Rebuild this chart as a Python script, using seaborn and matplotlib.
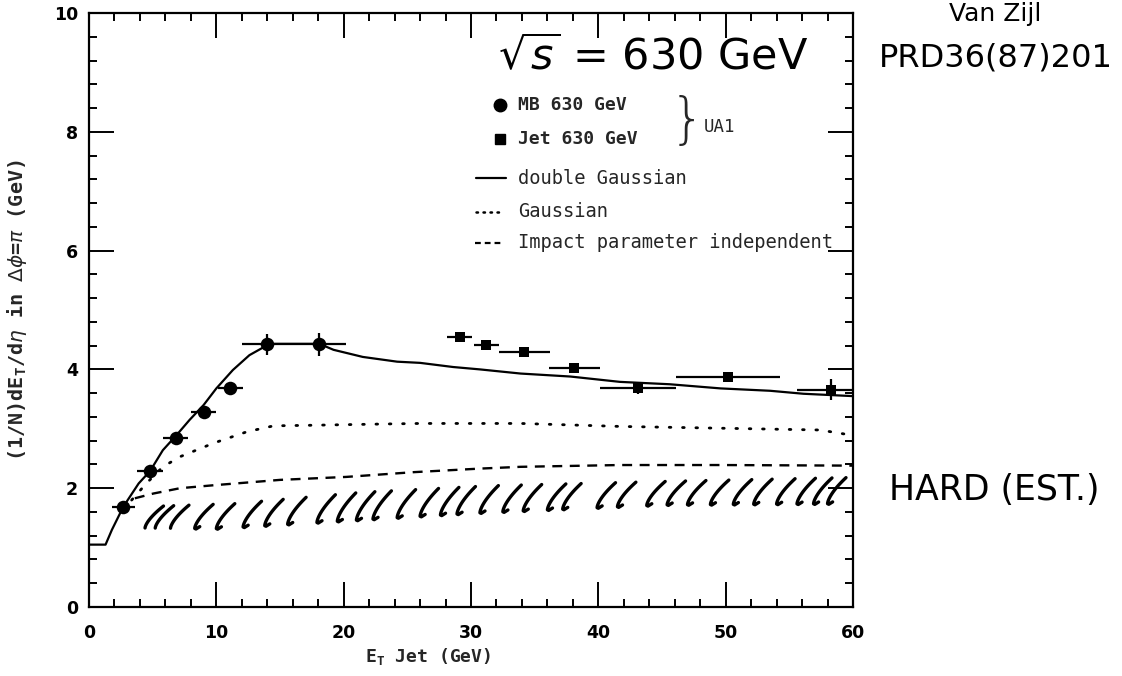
import numpy as np
import pandas as pd
import matplotlib
matplotlib.use("Agg")
import matplotlib.pyplot as plt
import seaborn as sns
from matplotlib.ticker import MultipleLocator
from matplotlib.lines import Line2D

# UA1 minimum-bias points (circles)
mb_et = [2.7, 4.8, 6.8, 9.0, 11.1, 14.0, 18.1]
mb_val = [1.69, 2.29, 2.84, 3.28, 3.68, 4.42, 4.42]
mb_xerr = [0.9, 1.0, 1.0, 1.0, 1.0, 2.0, 2.1]
mb_yerr = [0.06, 0.06, 0.06, 0.06, 0.06, 0.18, 0.20]

# UA1 jet-trigger points (squares)
jet_et = [29.1, 31.2, 34.2, 38.1, 43.1, 50.2, 58.3]
jet_val = [4.55, 4.41, 4.29, 4.03, 3.68, 3.88, 3.66]
jet_xerr = [1.0, 1.0, 2.0, 2.0, 3.0, 4.1, 2.7]
jet_yerr = [0.03, 0.03, 0.03, 0.03, 0.10, 0.05, 0.17]

# double Gaussian model
dg_x = [0, 1.3, 1.8, 2.7, 3.9, 4.8, 5.8, 6.9, 7.9, 9.0, 10.0, 11.3, 12.6, 13.6,
        14.5, 18.1, 19.2, 21.5, 24.2, 26.0, 28.6, 30.7, 33.9, 37.8, 41.7, 45.6,
        49.6, 53.5, 56.1, 60]
dg_y = [1.05, 1.05, 1.30, 1.69, 2.08, 2.29, 2.64, 2.90, 3.15, 3.40, 3.68, 3.99,
        4.24, 4.36, 4.43, 4.43, 4.33, 4.21, 4.13, 4.11, 4.04, 4.00, 3.93, 3.88,
        3.79, 3.75, 3.68, 3.64, 3.59, 3.55]

# single Gaussian model
g_x = [3.35, 4.5, 5.8, 7.15, 9.8, 12.4, 14.5, 17.6, 22.9, 26.0, 30.7, 33.9,
       41.7, 49.6, 57.4, 59.4]
g_y = [1.80, 2.08, 2.36, 2.53, 2.76, 2.95, 3.05, 3.06, 3.08, 3.09, 3.09, 3.09,
       3.04, 3.01, 2.98, 2.91]

# impact-parameter independent model
ip_x = [3.6, 5.05, 7.15, 9.8, 15.0, 20.2, 25.5, 30.7, 33.9, 41.7, 49.6, 60]
ip_y = [1.83, 1.91, 2.00, 2.05, 2.14, 2.19, 2.27, 2.33, 2.36, 2.39, 2.39, 2.38]

# hand-drawn estimate band for the hard component
hard_band_x = [4.4, 10.0, 20.0, 30.0, 45.0, 58.5]
hard_band_lo = [1.33, 1.32, 1.45, 1.58, 1.72, 1.74]
hard_band_hi = [1.70, 1.74, 1.93, 2.04, 2.12, 2.18]
hard_strokes = [4.4, 5.2, 6.4, 8.3, 10.0, 12.1, 13.8, 15.6, 17.9, 19.5, 21.0,
                22.3, 24.2, 26.0, 27.6, 28.9, 30.7, 32.5, 34.1, 36.0, 37.2,
                39.9, 41.5, 43.8, 45.4, 47.0, 48.8, 50.6, 52.2, 54.0, 55.6,
                56.9, 58.0]

x_ticks = [0, 10, 20, 30, 40, 50, 60]
y_ticks = [0, 2, 4, 6, 8, 10]

sns.set_theme(style="ticks")
plt.rcParams["font.family"] = ["DejaVu Sans"]

W, H = 1122, 676
fig = plt.figure(figsize=(W / 100, H / 100), dpi=100)
fig.patch.set_facecolor("white")
L, R, T, B = 89, 853, 13, 607
ax = fig.add_axes([L / W, 1 - B / H, (R - L) / W, (B - T) / H])
ax.set_facecolor("white")

ink = "black"
mono = "DejaVu Sans Mono"

# model curves
sns.lineplot(x=dg_x, y=dg_y, ax=ax, color=ink, lw=1.6, sort=False,
             estimator=None)
sns.lineplot(x=g_x, y=g_y, ax=ax, color=ink, lw=2.0, sort=False,
             estimator=None, linestyle=(0, (0.6, 4.2)), dash_capstyle="round")
sns.lineplot(x=ip_x, y=ip_y, ax=ax, color=ink, lw=1.7, sort=False,
             estimator=None, linestyle=(0, (4.2, 3.2)))

# data with error crosses
ax.errorbar(mb_et, mb_val, xerr=mb_xerr, yerr=mb_yerr, fmt="none",
            ecolor=ink, elinewidth=1.6, capsize=0)
ax.errorbar(jet_et, jet_val, xerr=jet_xerr, yerr=jet_yerr, fmt="none",
            ecolor=ink, elinewidth=1.6, capsize=0)
sns.scatterplot(x=mb_et, y=mb_val, ax=ax, color=ink, marker="o", s=95,
                linewidth=0, zorder=5)
sns.scatterplot(x=jet_et, y=jet_val, ax=ax, color=ink, marker="s", s=60,
                linewidth=0, zorder=5)

# pencil hatching of the hard estimate
for i, x0 in enumerate(hard_strokes):
    lo = np.interp(x0, hard_band_x, hard_band_lo)
    hi = np.interp(x0, hard_band_x, hard_band_hi)
    s = np.linspace(0, 1, 20)
    xs = x0 + 1.45 * s ** 1.5
    ys = lo + (hi - lo) * s
    if i >= 3:
        xs = np.concatenate([[x0 + 0.4, x0 + 0.1], xs])
        ys = np.concatenate([[lo + 0.03, lo - 0.01], ys])
    ax.plot(xs, ys, color=ink, lw=2.4, solid_capstyle="round",
            solid_joinstyle="round")

ax.set_xlim(0, 60)
ax.set_ylim(0, 10)
ax.set_xticks(x_ticks)
ax.set_yticks(y_ticks)
ax.xaxis.set_minor_locator(MultipleLocator(2))
ax.yaxis.set_minor_locator(MultipleLocator(0.4))
ax.tick_params(which="both", direction="in", top=True, right=True,
               colors=ink, width=1.4)
ax.tick_params(which="major", length=18)
ax.tick_params(which="minor", length=5.5)
ax.tick_params(axis="x", which="major", pad=12)
ax.tick_params(axis="y", which="major", pad=8)
for lab in ax.get_xticklabels() + ax.get_yticklabels():
    lab.set_fontweight("bold")
    lab.set_fontsize(12.5)
for sp in ax.spines.values():
    sp.set_linewidth(1.6)
    sp.set_color(ink)
    sp.set_visible(True)

ax.set_xlabel(r"E$_\mathregular{T}$ Jet (GeV)", fontsize=13, family=mono,
              fontweight="bold", labelpad=6)
ax.xaxis.set_label_coords(0.444, -0.066)
ax.set_ylabel(r"(1/N)dE$_\mathregular{T}$/d$\eta$ in $\Delta\phi$=$\pi$ (GeV)",
              fontsize=14.5, family=mono, fontweight="bold")
ax.yaxis.set_label_coords(-0.079, 0.5)

# legend drawn by hand inside the frame
tr = ax.transAxes
ax.add_line(Line2D([0.538], [0.845], transform=tr, marker="o", color=ink,
                   markersize=9, linestyle="none"))
ax.add_line(Line2D([0.538], [0.788], transform=tr, marker="s", color=ink,
                   markersize=7, linestyle="none"))
ax.text(0.562, 0.845, "MB 630 GeV", transform=tr, family=mono, fontsize=13,
        va="center", ha="left", fontweight="bold")
ax.text(0.562, 0.788, "Jet 630 GeV", transform=tr, family=mono, fontsize=13,
        va="center", ha="left", fontweight="bold")
ax.text(0.760, 0.817, "}", transform=tr, fontsize=40, va="center",
        ha="left", fontweight="light")
ax.text(0.805, 0.808, "UA1", transform=tr, family=mono, fontsize=12.5,
        va="center", ha="left")
ax.add_line(Line2D([0.507, 0.546], [0.722, 0.722], transform=tr, color=ink,
                   lw=1.6))
ax.add_line(Line2D([0.507, 0.542], [0.665, 0.665], transform=tr, color=ink,
                   lw=1.8, linestyle=(0, (0.6, 2.2)), dash_capstyle="round"))
ax.add_line(Line2D([0.505, 0.541], [0.613, 0.613], transform=tr, color=ink,
                   lw=1.6, linestyle=(0, (2.6, 1.8))))
ax.text(0.5615, 0.722, "double Gaussian", transform=tr, family=mono,
        fontsize=13.5, va="center", ha="left")
ax.text(0.5615, 0.665, "Gaussian", transform=tr, family=mono,
        fontsize=13.5, va="center", ha="left")
ax.text(0.5615, 0.613, "Impact parameter independent", transform=tr,
        family=mono, fontsize=13.5, va="center", ha="left")

# handwritten notes
hand = dict(color=ink, fontweight="normal")
fig.text(653 / W, 1 - 58 / H, r"$\sqrt{s}$ = 630 GeV", fontsize=31,
         ha="center", va="center", **hand)
fig.text(996 / W, 1 - 58 / H, "PRD36(87)201", fontsize=23,
         ha="center", va="center", **hand)
fig.text(995 / W, 1 - 14 / H, "Van Zijl", fontsize=18,
         ha="center", va="center", **hand)
fig.text(994 / W, 1 - 490 / H, "HARD (EST.)", fontsize=25,
         ha="center", va="center", **hand)

fig.savefig("out.png", dpi=100, facecolor="white")
